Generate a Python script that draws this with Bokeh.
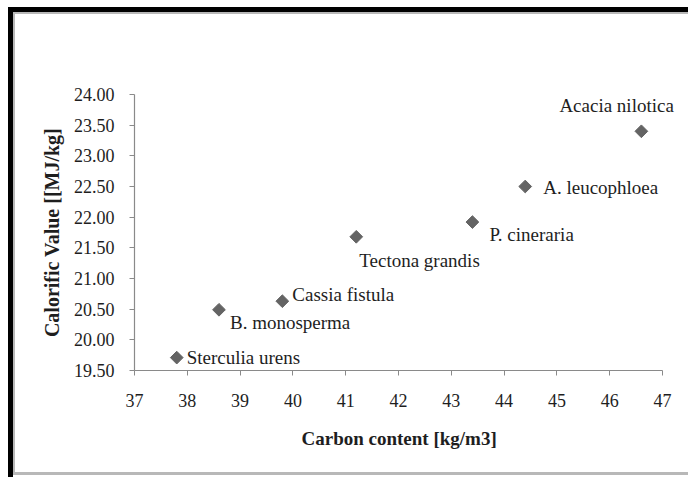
import numpy as np
from bokeh.plotting import figure
from bokeh.models import Range1d, FixedTicker, NumeralTickFormatter, ColumnDataSource, LabelSet, Title
from bokeh.embed import file_html
from bokeh.resources import INLINE

# ---- data ----
species = ["Sterculia urens", "B. monosperma", "Cassia fistula", "Tectona grandis",
           "P. cineraria", "A. leucophloea", "Acacia nilotica"]
carbon = [37.8, 38.6, 39.8, 41.2, 43.4, 44.4, 46.6]
calorific = [19.71, 20.49, 20.63, 21.68, 21.92, 22.50, 23.40]
x_ticks = [37, 38, 39, 40, 41, 42, 43, 44, 45, 46, 47]
y_ticks = [19.5, 20.0, 20.5, 21.0, 21.5, 22.0, 22.5, 23.0, 23.5, 24.0]
x_title = "Carbon content  [kg/m3]"
y_title = "Calorific Value [[MJ/kg]"

# label placement (screen pixels relative to marker; dy positive = upward)
label_dx = [10, 11, 10, 3, 17, 18, -82]
label_dy = [0, -13, 7, -24, -12, -1, 26]

FONT = "Liberation Serif"
TXT = "#1e1e1e"

W, H = 688, 477
FL, FT, FW, FH = 134, 94, 528, 276   # axis area; frame is extended to the right edge
x0, x1 = x_ticks[0], x_ticks[-1]
x_end = x1 + (W - FL - FW) * (x1 - x0) / FW

p = figure(width=W, height=H, output_backend="svg", toolbar_location=None,
           x_range=Range1d(x0, x_end), y_range=Range1d(y_ticks[0], y_ticks[-1]),
           min_border_left=FL, min_border_top=FT, min_border_right=0,
           min_border_bottom=H - FT - FH, frame_width=W - FL, frame_height=FH)
p.background_fill_color = "white"
p.border_fill_color = None
p.outline_line_color = None
p.xgrid.visible = False
p.ygrid.visible = False

# page frame drawn as CSS backgrounds behind the (transparent) canvas border
p.styles = {
    "background-color": "white",
    "background-image": ", ".join(["linear-gradient(#000,#000)"] * 2 +
                                  ["linear-gradient(#b8b8b8,#b8b8b8)"] * 3),
    "background-size": "5px 470px, 680px 5px, 2px 460px, 675px 2px, 675px 3px",
    "background-position": "8px 7px, 8px 7px, 13px 12px, 13px 12px, 13px 472px",
    "background-repeat": "no-repeat",
}

for ax in (p.xaxis, p.yaxis):
    ax.axis_line_color = "#8a8a8a"
    ax.axis_line_width = 1.2
    ax.major_tick_line_color = "#8a8a8a"
    ax.major_tick_out = 5
    ax.major_tick_in = 0
    ax.minor_tick_line_color = None
    ax.major_label_text_font = FONT
    ax.major_label_text_font_size = "18px"
    ax.major_label_text_color = TXT
    ax.axis_label_text_font = FONT
    ax.axis_label_text_font_style = "bold"
    ax.axis_label_text_color = TXT

p.xaxis.bounds = (x0, x1)
p.xaxis.ticker = FixedTicker(ticks=x_ticks)
p.yaxis.ticker = FixedTicker(ticks=y_ticks)
p.yaxis.formatter = NumeralTickFormatter(format="0.00")
p.yaxis.axis_label = y_title
p.yaxis.axis_label_text_font_size = "20px"
p.xaxis.major_label_standoff = 18
p.yaxis.major_label_standoff = 15
p.yaxis.axis_label_standoff = 8

# x-axis title centred under the drawn axis (37..47), not under the widened frame
p.add_layout(Title(text=x_title, align="left", offset=167, standoff=32,
                   text_font=FONT, text_font_size="19px", text_font_style="bold",
                   text_color=TXT), "below")

src = ColumnDataSource(dict(x=carbon, y=calorific, name=species, dx=label_dx, dy=label_dy))
p.scatter("x", "y", source=src, marker="square", angle=np.pi / 4, size=9,
          fill_color="#646464", line_color="#646464")
p.add_layout(LabelSet(x="x", y="y", text="name", source=src, x_offset="dx", y_offset="dy",
                      text_font=FONT, text_font_size="19px", text_color=TXT,
                      text_baseline="middle", text_align="left"))

open("out.html", "w").write(file_html(p, INLINE))
